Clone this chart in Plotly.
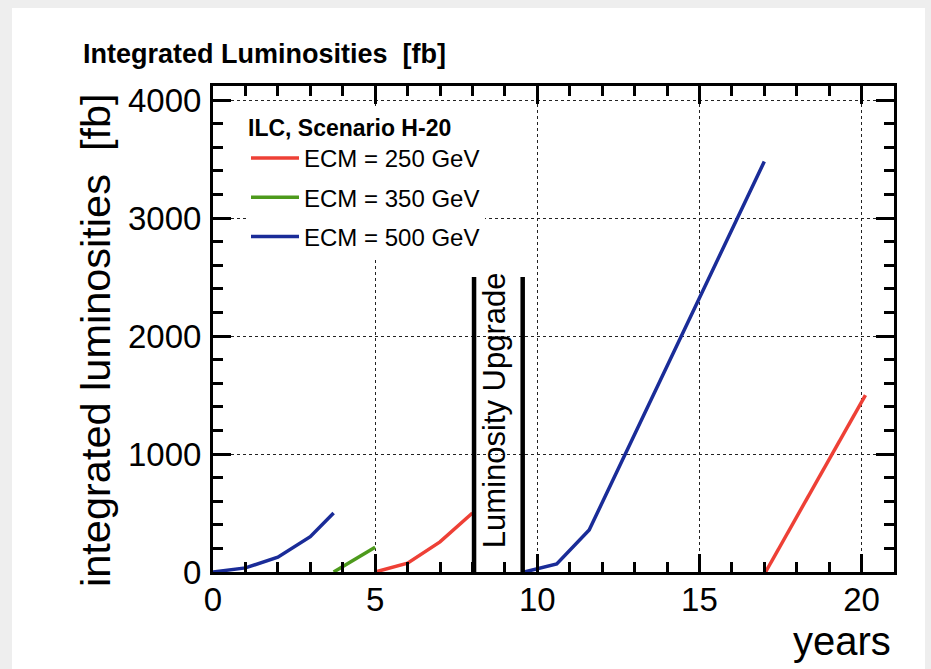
import plotly.graph_objects as go

# ---- data ----
years_500 = [0, 1, 2, 3, 3.72, None, 9.6, 10.6, 11.6, 17.0]
lumi_500 = [0, 35, 125, 300, 500, None, 0, 68, 356, 3480]
years_350 = [3.72, 5.0]
lumi_350 = [0, 210]
years_250 = [5, 6, 7, 8, None, 17.04, 20.12]
lumi_250 = [0, 75, 255, 500, None, 0, 1500]
upgrade_years = [8.05, 9.55]
upgrade_height = 2500
x_tickvals = [0, 5, 10, 15, 20]
y_tickvals = [0, 1000, 2000, 3000, 4000]

FONT = "Liberation Sans, Arial, Helvetica, sans-serif"
W, H = 931, 669
L, R, T, B = 213, 37, 86, 97
PW, PH = W - L - R, H - T - B


def px_x(p):
    return (p - L) / PW


def px_y(p):
    return (H - B - p) / PH


fig = go.Figure()

fig.add_trace(go.Scatter(x=years_250, y=lumi_250, mode="lines", name="ECM = 250 GeV",
                         legendgroup="a", line=dict(color="#ee4036", width=3.5)))
fig.add_trace(go.Scatter(x=years_350, y=lumi_350, mode="lines", name="ECM = 350 GeV",
                         legendgroup="b", line=dict(color="#4d9a1c", width=3.5)))
fig.add_trace(go.Scatter(x=years_500, y=lumi_500, mode="lines", name="ECM = 500 GeV",
                         legendgroup="c", line=dict(color="#1a2c98", width=3.5)))

# luminosity upgrade markers (two vertical bars)
ux, uy = [], []
for u in upgrade_years:
    ux += [u, u, None]
    uy += [0, upgrade_height, None]
fig.add_trace(go.Scatter(x=ux, y=uy, mode="lines", showlegend=False, hoverinfo="skip",
                         line=dict(color="black", width=4.5)))

axis_common = dict(
    ticks="inside", ticklen=18, tickwidth=2.5, tickcolor="black",
    showline=True, linewidth=3, linecolor="black", mirror="ticks",
    showgrid=True, gridcolor="#222", griddash="dot", gridwidth=1,
    zeroline=False, tickfont=dict(family=FONT, size=33, color="black"),
)

fig.update_xaxes(range=[0, 21], tickvals=x_tickvals, ticklabelstandoff=-4,
                 minor=dict(ticks="inside", ticklen=10, tickwidth=2.5, tickcolor="black",
                            dtick=1, showgrid=False),
                 **axis_common)
fig.update_yaxes(range=[0, 4120], tickvals=y_tickvals, ticklabelstandoff=2,
                 minor=dict(ticks="inside", ticklen=10, tickwidth=2.5, tickcolor="black",
                            dtick=200, showgrid=False),
                 **axis_common)

fig.update_layout(
    width=W, height=H,
    margin=dict(l=L, r=R, t=T, b=B, pad=0),
    paper_bgcolor="#eeeeee", plot_bgcolor="white",
    font=dict(family=FONT, color="black"),
    title=dict(text="<b>Integrated Luminosities\u00a0 [fb]</b>",
               x=83 / W, xanchor="left", xref="container",
               y=1 - 54 / H, yanchor="middle", yref="container",
               font=dict(family=FONT, size=27, color="black")),
    legend=dict(x=px_x(246), y=px_y(106), xanchor="left", yanchor="top",
                bgcolor="white", borderwidth=0, tracegroupgap=5, itemwidth=48,
                font=dict(family=FONT, size=24, color="black"),
                title=dict(text="<b>ILC, Scenario H-20</b>",
                           font=dict(family=FONT, size=23, color="black"))),
    showlegend=True,
)

# page frame (white sheet on light grey)
fig.add_shape(type="rect", xref="paper", yref="paper",
              x0=px_x(12), x1=px_x(925), y0=px_y(H + 5), y1=px_y(8),
              fillcolor="white", line=dict(width=0), layer="below")

fig.add_annotation(text="integrated luminosities\u00a0 [fb]", textangle=-90,
                   xref="paper", yref="paper", x=px_x(95), y=px_y(340),
                   xanchor="center", yanchor="middle", showarrow=False,
                   font=dict(family=FONT, size=41.5, color="black"))
fig.add_annotation(text="years", xref="paper", yref="paper",
                   x=px_x(893), y=px_y(641), xanchor="right", yanchor="middle",
                   showarrow=False, font=dict(family=FONT, size=40, color="black"))
fig.add_annotation(text="Luminosity Upgrade", textangle=-90,
                   x=sum(upgrade_years) / 2, y=upgrade_height * 0.55, xshift=-4,
                   xanchor="center", yanchor="middle", showarrow=False,
                   font=dict(family=FONT, size=31, color="black"))

fig.write_html("out.html",
               config={"displayModeBar": False},
               post_script="document.body.style.margin='0';"
                           "document.body.style.background='#eeeeee';"
                           "document.body.style.overflow='hidden';")
